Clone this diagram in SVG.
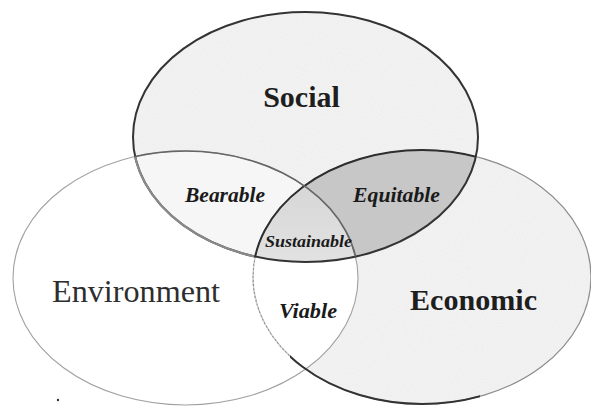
<svg xmlns="http://www.w3.org/2000/svg" width="591" height="407" viewBox="0 0 591 407">
<style>
.lbl{font-family:"Liberation Serif","Times New Roman",serif;text-anchor:middle;}
.big{font-size:30px;font-weight:bold;fill:#1e1e1e;}
.env{font-size:31px;font-weight:normal;fill:#2e2e2e;}
.sm{font-size:20px;font-weight:bold;font-style:italic;fill:#1a1a1a;}
</style>
<defs>
<clipPath id="cSocial"><ellipse cx="305.5" cy="137" rx="172.5" ry="125"/></clipPath>
<clipPath id="cEnv"><ellipse cx="185.5" cy="278" rx="172.5" ry="127"/></clipPath>
<clipPath id="cEcon"><ellipse cx="422" cy="277" rx="169" ry="127"/></clipPath>
<clipPath id="cLeft"><rect x="0" y="0" width="254" height="407"/></clipPath>
<clipPath id="cBottom"><rect x="290" y="350" width="190" height="57"/></clipPath>
<linearGradient id="gSust" x1="0" y1="0" x2="0" y2="1">
<stop offset="0" stop-color="#d2d2d2"/>
<stop offset="1" stop-color="#f6f6f6"/>
</linearGradient>
<filter id="grain" x="0" y="0" width="100%" height="100%">
<feTurbulence type="fractalNoise" baseFrequency="0.9" numOctaves="2" seed="3" result="n"/>
<feColorMatrix in="n" type="matrix" values="0 0 0 0 0.5  0 0 0 0 0.5  0 0 0 0 0.5  0 0 0 0.2 -0.06" result="g"/>
<feComposite in="g" in2="SourceGraphic" operator="in" result="gc"/>
<feMerge><feMergeNode in="SourceGraphic"/><feMergeNode in="gc"/></feMerge>
</filter>
</defs>
<rect width="591" height="407" fill="#ffffff"/>

<g id="social">
<ellipse cx="305.5" cy="137" rx="172.5" ry="125" fill="#f3f3f3" filter="url(#grain)"/>
</g>
<g id="economic">
<ellipse cx="422" cy="277" rx="169" ry="127" fill="#f3f3f3" filter="url(#grain)"/>
</g>
<g id="environment">
<ellipse cx="185.5" cy="278" rx="172.5" ry="127" fill="#ffffff"/>
</g>
<g id="bearable">
<ellipse cx="185.5" cy="278" rx="172.5" ry="127" fill="#f6f6f6" clip-path="url(#cSocial)"/>
</g>
<g id="equitable">
<ellipse cx="422" cy="277" rx="169" ry="127" fill="#c8c8c8" clip-path="url(#cSocial)" filter="url(#grain)"/>
</g>
<g id="sustainable">
<g clip-path="url(#cEcon)">
<ellipse cx="185.5" cy="278" rx="172.5" ry="127" fill="url(#gSust)" clip-path="url(#cSocial)"/>
</g>
</g>

<g id="outlines" fill="none">
<ellipse cx="185.5" cy="278" rx="172.5" ry="127" stroke="#a0a0a0" stroke-width="1.1"/>
<ellipse cx="422" cy="277" rx="169" ry="127" stroke="#8c8c8c" stroke-width="1.2"/>
<g clip-path="url(#cEnv)"><ellipse cx="422" cy="277" rx="169" ry="127" stroke="#ffffff" stroke-width="1.4" stroke-dasharray="2 2" opacity="0.6"/></g>
<ellipse cx="305.5" cy="137" rx="172.5" ry="125" stroke="#333333" stroke-width="2"/>
<g clip-path="url(#cEnv)"><ellipse cx="305.5" cy="137" rx="172.5" ry="125" stroke="#8a8a8a" stroke-width="2.2" clip-path="url(#cLeft)"/></g>
<ellipse cx="422" cy="277" rx="169" ry="127" stroke="#2e2e2e" stroke-width="2" clip-path="url(#cSocial)"/>
<ellipse cx="185.5" cy="278" rx="172.5" ry="127" stroke="#666666" stroke-width="1.6" clip-path="url(#cSocial)"/>
<ellipse cx="422" cy="277" rx="169" ry="127" stroke="#333333" stroke-width="2" clip-path="url(#cBottom)"/>
</g>

<g id="labels" class="lbl">
<text class="big" x="301.5" y="107">Social</text>
<text class="env" x="136" y="302" textLength="168" lengthAdjust="spacingAndGlyphs">Environment</text>
<text class="big" x="473.5" y="310" textLength="127" lengthAdjust="spacingAndGlyphs">Economic</text>
<text class="sm" x="225" y="202" textLength="80" lengthAdjust="spacingAndGlyphs">Bearable</text>
<text class="sm" x="396.5" y="202" textLength="87" lengthAdjust="spacingAndGlyphs">Equitable</text>
<text class="sm" x="308.5" y="247" style="font-size:17px" textLength="87" lengthAdjust="spacingAndGlyphs">Sustainable</text>
<text class="sm" x="308" y="318" textLength="58" lengthAdjust="spacingAndGlyphs">Viable</text>
</g>
<circle cx="58" cy="400" r="1.2" fill="#333"/>
</svg>
